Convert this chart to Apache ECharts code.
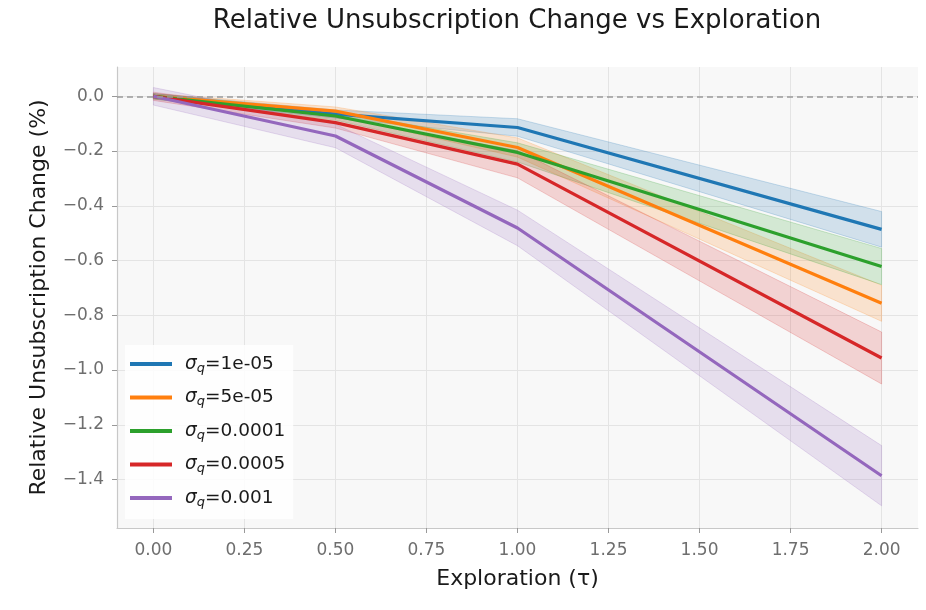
<!DOCTYPE html>
<html>
<head>
<meta charset="utf-8">
<script src="https://cdn.jsdelivr.net/npm/echarts@6/dist/echarts.min.js"></script>
<style>html,body{margin:0;padding:0;background:#fff}#c{width:926px;height:610px}</style>
</head>
<body>
<div id="c"></div>
<script>
// ---- data ----
const xValues = [0, 0.5, 1.0, 2.0];
const labels = ['1e-05', '5e-05', '0.0001', '0.0005', '0.001'];
const colors = ['#1f77b4', '#ff7f0e', '#2ca02c', '#d62728', '#9467bd'];
const mean1 = [0, -0.065, -0.114, -0.486];
const mean2 = [0, -0.054, -0.187, -0.756];
const mean3 = [0, -0.072, -0.205, -0.622];
const mean4 = [0, -0.096, -0.248, -0.956];
const mean5 = [0, -0.145, -0.481, -1.386];
const err1 = [0.010, 0.015, 0.032, 0.065];
const err2 = [0.010, 0.015, 0.035, 0.066];
const err3 = [0.010, 0.015, 0.035, 0.066];
const err4 = [0.015, 0.020, 0.050, 0.095];
const err5 = [0.032, 0.043, 0.065, 0.110];
const xTicks = [0, 0.25, 0.5, 0.75, 1.0, 1.25, 1.5, 1.75, 2.0];
const yTicks = [0, -0.2, -0.4, -0.6, -0.8, -1.0, -1.2, -1.4];

const means = [mean1, mean2, mean3, mean4, mean5];
const errs = [err1, err2, err3, err4, err5];
const FONT = 'DejaVu Sans';

function hexA(hex, a) {
  const r = parseInt(hex.slice(1,3),16), g = parseInt(hex.slice(3,5),16), b = parseInt(hex.slice(5,7),16);
  return `rgba(${r},${g},${b},${a})`;
}

const series = [];
means.forEach((m, k) => {
  const band = xValues.map((x, i) => [x, m[i] - errs[k][i], m[i] + errs[k][i]]);
  series.push({
    type: 'custom',
    name: 'band' + k,
    z: 1,
    silent: true,
    data: band,
    encode: { x: 0, y: [1, 2] },
    renderItem: function (params, api) {
      if (params.dataIndexInside !== 0) return null;
      const n = params.dataInsideLength;
      const up = [], lo = [];
      for (let i = 0; i < n; i++) {
        up.push(api.coord([api.value(0, i), api.value(2, i)]));
        lo.push(api.coord([api.value(0, i), api.value(1, i)]));
      }
      const pts = up.concat(lo.reverse());
      return {
        type: 'polygon',
        shape: { points: pts },
        style: { fill: hexA(colors[k], 0.18), stroke: hexA(colors[k], 0.22), lineWidth: 1 }
      };
    }
  });
});
means.forEach((m, k) => {
  const s = {
    type: 'line',
    name: labels[k],
    data: xValues.map((x, i) => [x, m[i]]),
    showSymbol: false,
    symbol: 'none',
    z: 3,
    lineStyle: { color: colors[k], width: 3.2 },
    itemStyle: { color: colors[k] },
    emphasis: { disabled: true }
  };
  if (k === 0) {
    s.markLine = {
      silent: true, symbol: ['none', 'none'], label: { show: false },
      lineStyle: { color: '#999', type: [6, 4], width: 1.5 },
      data: [{ yAxis: 0 }]
    };
  }
  series.push(s);
});

const chart = echarts.init(document.getElementById('c'), null, { renderer: 'canvas' });
chart.setOption({
  animation: false,
  backgroundColor: '#ffffff',
  textStyle: { fontFamily: FONT },
  title: {
    text: 'Relative Unsubscription Change vs Exploration',
    left: 517, top: 8, padding: 0, textAlign: 'center',
    textStyle: { fontFamily: FONT, fontSize: 26, fontWeight: 'normal', color: '#1a1a1a' }
  },
  grid: { left: 117, right: 8, top: 67, bottom: 82, show: true, backgroundColor: '#f8f8f8', borderWidth: 0 },
  legend: {
    data: labels,
    orient: 'vertical',
    left: 125, top: 345,
    padding: [8, 8, 10, 5],
    backgroundColor: 'rgba(255,255,255,0.85)',
    icon: 'rect',
    itemWidth: 42, itemHeight: 4,
    itemGap: 11.5,
    formatter: function (name) { return '{s|σ}{q|q}{n|=' + name + '}'; },
    textStyle: {
      fontFamily: FONT, fontSize: 18.5, color: '#1a1a1a', lineHeight: 22, padding: [0, 0, 0, 8],
      rich: {
        s: { fontFamily: FONT, fontSize: 18.5, fontStyle: 'italic', color: '#1a1a1a' },
        q: { fontFamily: FONT, fontSize: 13, fontStyle: 'italic', color: '#1a1a1a', padding: [9, 0, 0, 0] },
        n: { fontFamily: FONT, fontSize: 18.5, color: '#1a1a1a' }
      }
    }
  },
  xAxis: {
    type: 'value', min: -0.1, max: 2.1,
    name: 'Exploration (τ)', nameLocation: 'middle', nameGap: 40,
    nameTextStyle: { fontFamily: FONT, fontSize: 22, color: '#1a1a1a' },
    axisLine: { show: true, onZero: false, lineStyle: { color: '#c8c8c8', width: 1.2 } },
    axisTick: { show: true, length: 5, lineStyle: { color: '#999' }, customValues: xTicks },
    axisLabel: { customValues: xTicks, color: '#6e6e6e', fontSize: 17, margin: 14,
      formatter: v => v.toFixed(2) },
    splitLine: { show: true, lineStyle: { color: '#e4e4e4', width: 1 } }
  },
  yAxis: {
    type: 'value', min: -1.577, max: 0.107,
    name: 'Relative Unsubscription Change (%)', nameLocation: 'middle', nameGap: 67,
    nameTextStyle: { fontFamily: FONT, fontSize: 22, color: '#1a1a1a' },
    axisLine: { show: true, onZero: false, lineStyle: { color: '#c8c8c8', width: 1.2 } },
    axisTick: { show: true, length: 5, lineStyle: { color: '#999' }, customValues: yTicks },
    axisLabel: { customValues: yTicks, color: '#6e6e6e', fontSize: 17, margin: 13,
      formatter: v => (v < 0 ? '\u2212' : '') + Math.abs(v).toFixed(1) },
    splitLine: { show: true, lineStyle: { color: '#e4e4e4', width: 1 } }
  },
  series: series
});
</script>
</body>
</html>
